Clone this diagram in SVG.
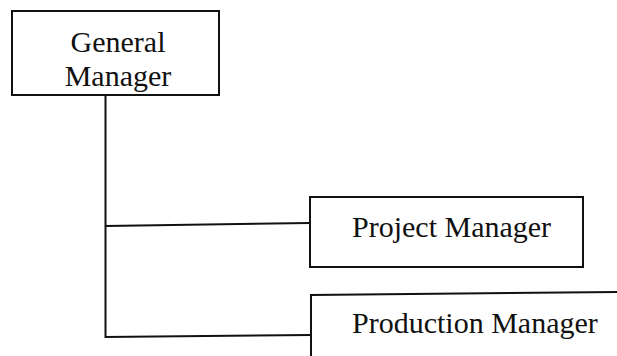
<svg xmlns="http://www.w3.org/2000/svg" width="617" height="356" viewBox="0 0 617 356">
<style>
.box{fill:#fff;stroke:#111;stroke-width:2}
.conn{fill:none;stroke:#111;stroke-width:2}
text{font-family:"Liberation Serif","Times New Roman",serif;font-size:30px;fill:#111}
</style>
<rect width="617" height="356" fill="#fff"/>
<g id="connectors">
<polyline class="conn" points="105.5,95 105.5,337 311,335"/>
<line class="conn" x1="105.5" y1="226" x2="310" y2="223"/>
</g>
<g id="general-manager">
<rect class="box" x="12" y="11" width="207" height="84"/>
<text x="118" y="52" text-anchor="middle">General</text>
<text x="118" y="85.5" text-anchor="middle">Manager</text>
</g>
<g id="project-manager">
<rect class="box" x="310" y="197" width="273" height="70"/>
<text x="352" y="237">Project Manager</text>
</g>
<g id="production-manager">
<path class="box" d="M311,358 L311,295 L620,292"/>
<text x="352" y="333">Production Manager</text>
</g>
</svg>
